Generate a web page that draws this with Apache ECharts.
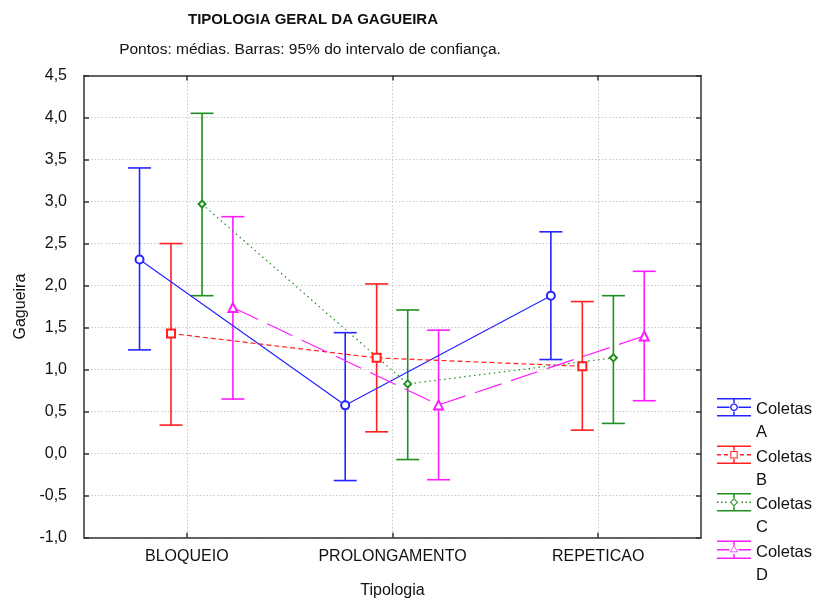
<!DOCTYPE html>
<html>
<head>
<meta charset="utf-8">
<script src="https://cdn.jsdelivr.net/npm/echarts@6/dist/echarts.min.js"></script>
<style>
    html, body { margin: 0; padding: 0; background: #fff; }
    #main { width: 819px; height: 604px; }
</style>
</head>
<body>
<div id="main"></div>
<script>
const categories = ['BLOQUEIO', 'PROLONGAMENTO', 'REPETICAO'];
const groupNames = ['Coletas A', 'Coletas B', 'Coletas C', 'Coletas D'];

const meanA = [2.31, 0.575, 1.88];
const lowA = [1.235, -0.32, 1.12];
const highA = [3.40, 1.44, 2.64];

const meanB = [1.43, 1.14, 1.04];
const lowB = [0.34, 0.26, 0.28];
const highB = [2.50, 2.02, 1.81];

const meanC = [2.97, 0.83, 1.14];
const lowC = [1.88, -0.07, 0.36];
const highC = [4.05, 1.71, 1.88];

const meanD = [1.74, 0.58, 1.40];
const lowD = [0.65, -0.31, 0.63];
const highD = [2.82, 1.47, 2.17];

const means = [meanA, meanB, meanC, meanD];
const lows = [lowA, lowB, lowC, lowD];
const highs = [highA, highB, highC, highD];

// visual settings per group
const colors = ['#2424ff', '#ff2020', '#1f8f1f', '#ff1aff'];
const offsets = [-0.23, -0.077, 0.074, 0.224];
const symbols = ['emptyCircle', 'emptyRect', 'emptyDiamond', 'emptyTriangle'];
const symbolSizes = [8, 8, 7, 9];
const dashes = ['solid', [5, 3], [1.5, 3.5], [28, 10]];

const FONT = 'Liberation Sans';
const fmt = v => v.toFixed(1).replace('.', ',');

// legend icon: error bar with a hollow marker, drawn in the top part of a 34x46 box
// (the tiny speck at the bottom only stretches the box so the icon sits beside the first text line)
const cx = 17, cy = 9.25;
const poly = (n, r, rot, reverse) => {
    let pts = [];
    for (let k = 0; k < n; k++) {
        const a = rot + k * 2 * Math.PI / n;
        pts.push([cx + r * Math.cos(a), cy + r * Math.sin(a)]);
    }
    if (reverse) pts.reverse();
    return 'M' + pts.map(p => p[0].toFixed(2) + ',' + p[1].toFixed(2)).join('L') + 'Z ';
};
const ring = (n, r, rot) => poly(n, r, rot, false) + poly(n, r - 1.4, rot, true);
const markerPaths = [
    ring(10, 4, 0),
    ring(4, 5.2, Math.PI / 4),
    ring(4, 4.2, 0),
    ring(3, 4.8, -Math.PI / 2)
];
const capsPath = 'M0,0H34V1.5H0Z M0,17H34V18.5H0Z M16.25,1.5H17.75V5H16.25Z M16.25,13.5H17.75V17H16.25Z M17,45.99H17.01V46H17Z ';
const midPaths = [
    'M0,8.5H12.5V10H0Z M21.5,8.5H34V10H21.5Z',
    'M0,8.5H4V10H0Z M7,8.5H11V10H7Z M23,8.5H27V10H23Z M30,8.5H34V10H30Z',
    'M0,8.5H1.5V10H0Z M4,8.5H5.5V10H4Z M8,8.5H9.5V10H8Z M24.5,8.5H26V10H24.5Z M28.5,8.5H30V10H28.5Z M32.5,8.5H34V10H32.5Z',
    'M0,8.5H12.5V10H0Z M21.5,8.5H34V10H21.5Z'
];

const series = [];
groupNames.forEach((name, s) => {
    const pts = means[s].map((m, i) => [i + offsets[s], m]);
    const bars = lows[s].map((lo, i) => [i + offsets[s], lo, highs[s][i]]);
    series.push({
        name: name,
        type: 'custom',
        xAxisIndex: 2,
        yAxisIndex: 0,
        z: 2,
        silent: true,
        data: bars,
        renderItem: (params, api) => {
            const x = api.value(0);
            const pLo = api.coord([x, api.value(1)]);
            const pHi = api.coord([x, api.value(2)]);
            const hw = 11.5;
            const st = {stroke: colors[s], lineWidth: 1.6};
            return {
                type: 'group',
                children: [
                    {type: 'line', shape: {x1: pLo[0], y1: pLo[1], x2: pHi[0], y2: pHi[1]}, style: st},
                    {type: 'line', shape: {x1: pLo[0] - hw, y1: pLo[1], x2: pLo[0] + hw, y2: pLo[1]}, style: st},
                    {type: 'line', shape: {x1: pHi[0] - hw, y1: pHi[1], x2: pHi[0] + hw, y2: pHi[1]}, style: st}
                ]
            };
        }
    });
    series.push({
        name: name,
        type: 'line',
        xAxisIndex: 2,
        yAxisIndex: 0,
        z: 3,
        data: pts,
        symbol: symbols[s],
        symbolSize: symbolSizes[s],
        itemStyle: {color: colors[s], borderWidth: 1.3},
        lineStyle: {color: colors[s], width: 1.2, type: dashes[s]},
        animation: false
    });
});

const gridLine = {show: true, lineStyle: {color: '#c8c8c8', type: [1.5, 2], width: 1}};
const frameLine = {show: true, onZero: false, lineStyle: {color: '#333', width: 1.5}};
const labelText = {fontFamily: FONT, fontSize: 16, color: '#111'};

const option = {
    animation: false,
    title: [
        {
            text: 'TIPOLOGIA GERAL DA GAGUEIRA',
            left: 308, top: 7, textAlign: 'center',
            textStyle: {fontFamily: FONT, fontSize: 15, fontWeight: 'bold', color: '#111'}
        },
        {
            text: 'Pontos: médias. Barras: 95% do intervalo de confiança.',
            left: 305, top: 36.5, textAlign: 'center',
            textStyle: {fontFamily: FONT, fontSize: 15.5, fontWeight: 'normal', color: '#111'}
        }
    ],
    grid: {left: 84, right: 118, top: 75.5, bottom: 66.3, containLabel: false},
    legend: {
        orient: 'vertical',
        left: 717,
        top: 398,
        height: 260,
        itemWidth: 34,
        itemHeight: 46,
        itemGap: 1.5,
        padding: 0,
        selectedMode: false,
        formatter: n => n.replace(' ', '\n'),
        textStyle: {fontFamily: FONT, fontSize: 16.5, color: '#111', lineHeight: 23},
        data: groupNames.map((n, s) => ({
            name: n,
            icon: 'path://' + capsPath + midPaths[s] + ' ' + markerPaths[s],
            itemStyle: {color: colors[s], borderWidth: 0, opacity: 1}
        }))
    },
    xAxis: [
        {
            type: 'category',
            data: categories,
            position: 'bottom',
            boundaryGap: true,
            name: 'Tipologia',
            nameLocation: 'middle',
            nameGap: 45,
            nameTextStyle: labelText,
            axisLine: frameLine,
            axisTick: {show: true, inside: true, alignWithLabel: true, length: 5, lineStyle: {color: '#333', width: 1.5}},
            axisLabel: Object.assign({margin: 11}, labelText),
            splitLine: Object.assign({alignWithLabel: true}, gridLine)
        },
        {
            type: 'category',
            data: categories,
            position: 'top',
            boundaryGap: true,
            axisLine: frameLine,
            axisTick: {show: true, inside: true, alignWithLabel: true, length: 5, lineStyle: {color: '#333', width: 1.5}},
            axisLabel: {show: false},
            splitLine: {show: false}
        },
        {
            type: 'value',
            min: -0.5,
            max: 2.5,
            show: false,
            splitLine: {show: false}
        }
    ],
    yAxis: [
        {
            type: 'value',
            min: -1,
            max: 4.5,
            interval: 0.5,
            position: 'left',
            name: 'Gagueira',
            nameLocation: 'middle',
            nameGap: 51,
            nameTextStyle: labelText,
            axisLine: frameLine,
            axisTick: {show: true, inside: true, length: 5, lineStyle: {color: '#333', width: 1.5}},
            axisLabel: Object.assign({margin: 17, formatter: fmt}, labelText),
            splitLine: gridLine
        },
        {
            type: 'value',
            min: -1,
            max: 4.5,
            interval: 0.5,
            position: 'right',
            axisLine: frameLine,
            axisTick: {show: true, inside: true, length: 5, lineStyle: {color: '#333', width: 1.5}},
            axisLabel: {show: false},
            splitLine: {show: false}
        }
    ],
    series: series
};

const chart = echarts.init(document.getElementById('main'), null, {renderer: 'canvas'});
chart.setOption(option);
</script>
</body>
</html>
